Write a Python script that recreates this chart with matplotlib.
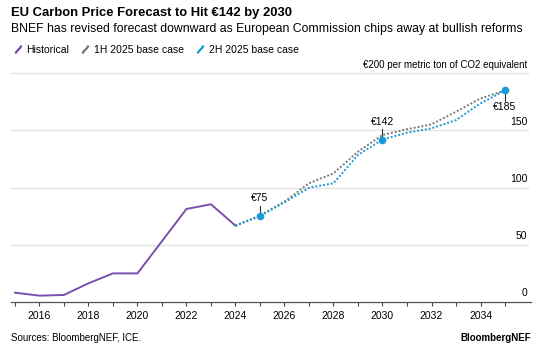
import matplotlib.pyplot as plt
from matplotlib.lines import Line2D

plt.rcParams['font.family'] = ['Liberation Sans', 'DejaVu Sans']

hist_years = [2015, 2016, 2017, 2018, 2019, 2020, 2021, 2022, 2023, 2024]
hist_price = [7.9, 5.3, 5.9, 16.1, 24.8, 24.8, 53.0, 81.2, 85.3, 66.6]

fc_years = [2024, 2025, 2026, 2027, 2028, 2029, 2030, 2031, 2032, 2033, 2034, 2035]
h1_price = [66.6, 75.5, 87.6, 103.7, 112.4, 131.4, 146.0, 151.0, 155.3, 166.4, 178.0, 185.0]
h2_price = [66.6, 75.0, 87.0, 99.8, 103.7, 128.5, 142.0, 148.0, 151.8, 159.0, 173.7, 185.0]

callouts = [(2025, 75, '€75', 'above'), (2030, 142, '€142', 'above'), (2035, 185, '€185', 'below')]

purple = '#7b4fb0'
grey = '#7a7a7a'
blue = '#1a9ad6'

fig = plt.figure(figsize=(5.54, 3.5), dpi=100)
ax = fig.add_axes([11 / 554, 48.3 / 350, 520 / 554, 231.7 / 350])

ax.plot(hist_years, hist_price, color=purple, lw=1.4, solid_joinstyle='miter')
ax.plot(fc_years, h1_price, color=grey, lw=1.4, ls=(0, (1, 1)))
ax.plot(fc_years, h2_price, color=blue, lw=1.4, ls=(0, (1, 1)))

for yr, val, txt, pos in callouts:
    ax.plot([yr], [val], 'o', color=blue, ms=4.5, zorder=5)
    if pos == 'above':
        ax.plot([yr, yr], [val + 2, val + 9], color='#333333', lw=0.8)
        ax.text(yr, val + 11, txt, ha='center', va='bottom', fontsize=7.5)
    else:
        ax.plot([yr, yr], [val - 2, val - 9], color='#333333', lw=0.8)
        ax.text(yr, val - 10, txt, ha='center', va='top', fontsize=7.5)

ax.set_xlim(2014.84, 2036.06)
ax.set_ylim(0, 202.9)

for v in [50, 100, 150, 200]:
    ax.axhline(v, xmax=0.994, color='#e3e3e3', lw=1, zorder=0)
for v in [0, 50, 100, 150]:
    ax.text(2035.9, v + 3, str(v), ha='right', va='bottom', fontsize=7.5)
ax.text(2035.9, 203, '€200 per metric ton of CO2 equivalent', ha='right', va='bottom', fontsize=7)

ax.set_xticks(range(2015, 2036))
ax.set_xticklabels([str(y) if y % 2 == 0 else '' for y in range(2015, 2036)], fontsize=7.5)
ax.tick_params(axis='x', length=3, width=0.8, color='#444444', pad=4)
ax.set_yticks([])
for s in ['top', 'right', 'left']:
    ax.spines[s].set_visible(False)
ax.spines['bottom'].set_color('#555555')
ax.spines['bottom'].set_linewidth(0.9)

fig.text(11 / 554, 1 - 13 / 350, 'EU Carbon Price Forecast to Hit €142 by 2030',
         fontsize=9.4, fontweight='bold', va='center')
fig.text(11 / 554, 1 - 29 / 350,
         'BNEF has revised forecast downward as European Commission chips away at bullish reforms',
         fontsize=8.8, va='center')

handles = [Line2D([], [], color=c, ls='none', marker=(2, 2, -40), ms=7, mew=1.3)
           for c in [purple, grey, blue]]
fig.legend(handles, ['Historical', '1H 2025 base case', '2H 2025 base case'],
           loc='center left', bbox_to_anchor=(4 / 554, 1 - 50 / 350), ncol=3, frameon=False,
           fontsize=7.5, handlelength=0.8, handletextpad=0.4, columnspacing=1.2)

fig.text(11 / 554, 1 - 338 / 350, 'Sources: BloombergNEF, ICE.', fontsize=7, va='center')
fig.text(531 / 554, 1 - 338 / 350, 'BloombergNEF', fontsize=7, fontweight='bold', ha='right', va='center')

fig.savefig('out.png', dpi=100)
